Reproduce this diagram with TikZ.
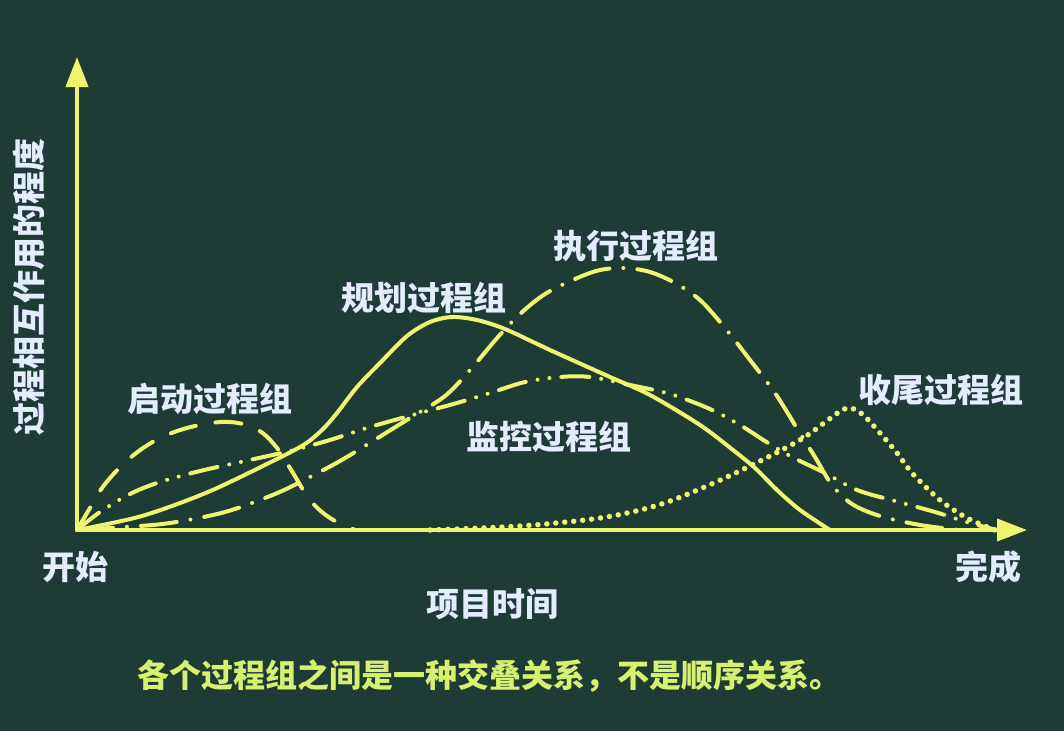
\documentclass[tikz,border=0pt]{standalone}
\usepackage{fontspec}
\newfontfamily\cjk{Noto Sans CJK SC}
\usetikzlibrary{arrows.meta}
\definecolor{bg}{RGB}{30,60,54}
\definecolor{ln}{RGB}{240,245,110}
\definecolor{lbl}{RGB}{228,236,255}
\definecolor{note}{RGB}{216,240,112}
\tikzset{
  axis/.style={draw=ln, line width=4pt, -{Triangle[length=30pt,width=22pt]}},
  crv/.style={draw=ln, line width=4pt, line cap=round, line join=round},
  startcrv/.style={crv, dash pattern=on 26pt off 20pt},
  plancrv/.style={crv},
  execcrv/.style={crv, dash pattern=on 36pt off 14pt on 0pt off 14pt},
  moncrv/.style={crv, dash pattern=on 28pt off 12pt on 0pt off 12pt on 0pt off 12pt},
  closecrv/.style={crv, line width=5.5pt, dash pattern=on 0pt off 9pt},
  grp/.style={text=lbl, font=\cjk\bfseries\fontsize{33pt}{36pt}\selectfont, inner sep=0pt},
  axlbl/.style={text=lbl, font=\cjk\bfseries\fontsize{33pt}{36pt}\selectfont, inner sep=0pt},
  notetxt/.style={text=note, font=\cjk\bfseries\fontsize{32pt}{36pt}\selectfont, inner sep=0pt}
}
\begin{document}
\begin{tikzpicture}[x=1pt,y=-1pt]
\path[fill=bg] (0,0) rectangle (1064,731);
\useasboundingbox (0,0) rectangle (1064,731);

\coordinate (O) at (77,530);
\coordinate (ytop) at (77,57);
\coordinate (xend) at (1027,530);

% curves
\draw[startcrv] plot[smooth, tension=0.6] coordinates {(O) (90,508) (105,484) (130,458) (160,438) (195,426) (230,422) (258,430) (277,448) (293,473) (310,500) (330,518) (355,530)};
\draw[plancrv] plot[smooth, tension=0.5] coordinates {(O) (142,516) (208,492) (275,460) (305,444) (323,429) (337,413) (357,387) (380,363) (407,336) (430,322) (452,317) (477,320) (505,329) (550,350) (610,377) (650,395) (700,425) (733,450) (755,468) (777,490) (800,510) (830,530)};
\draw[execcrv] plot[smooth, tension=0.55] coordinates {(O) (125,527) (170,523) (225,512) (275,494) (308,478) (340,461) (368,444) (410,418) (445,396) (470,370) (498,337) (520,314) (545,294) (575,279) (600,270) (625,268) (650,272) (675,283) (700,300) (725,328) (750,360) (775,393) (798,430) (815,457) (832,485) (852,504) (880,516) (920,525) (960,530)};
\draw[moncrv] plot[smooth, tension=0.55] coordinates {(O) (100,512) (130,494) (160,482) (200,471) (245,461) (290,451) (330,440) (370,427) (420,413) (457,403) (490,393) (525,382) (560,377) (590,377) (630,385) (670,394) (710,409) (740,425) (765,441) (792,457) (825,473) (857,490) (895,501) (935,512) (970,523) (997,530)};
\draw[closecrv] plot[smooth, tension=0.55] coordinates {(430,530) (520,526) (600,518) (655,506) (700,489) (750,466) (800,440) (828,420) (847,408) (862,414) (880,433) (897,453) (913,474) (940,500) (967,518) (995,530)};

% axes
\draw[axis] (O) -- (ytop);
\draw[axis] (O) -- (xend);

% labels
\node[axlbl, rotate=90] (ylab) at (29,287) {过程相互作用的程度};
\node[axlbl] (start) at (75,567) {开始};
\node[axlbl] (finish) at (988,567) {完成};
\node[axlbl] (xlab) at (492,604) {项目时间};
\node[grp] (g1) at (210,399) {启动过程组};
\node[grp] (g2) at (424,298) {规划过程组};
\node[grp] (g3) at (636,246) {执行过程组};
\node[grp] (g4) at (549,437) {监控过程组};
\node[grp] (g5) at (941,390) {收尾过程组};
\node[notetxt] (note) at (489,676) {各个过程组之间是一种交叠关系，不是顺序关系。};
\end{tikzpicture}
\end{document}
